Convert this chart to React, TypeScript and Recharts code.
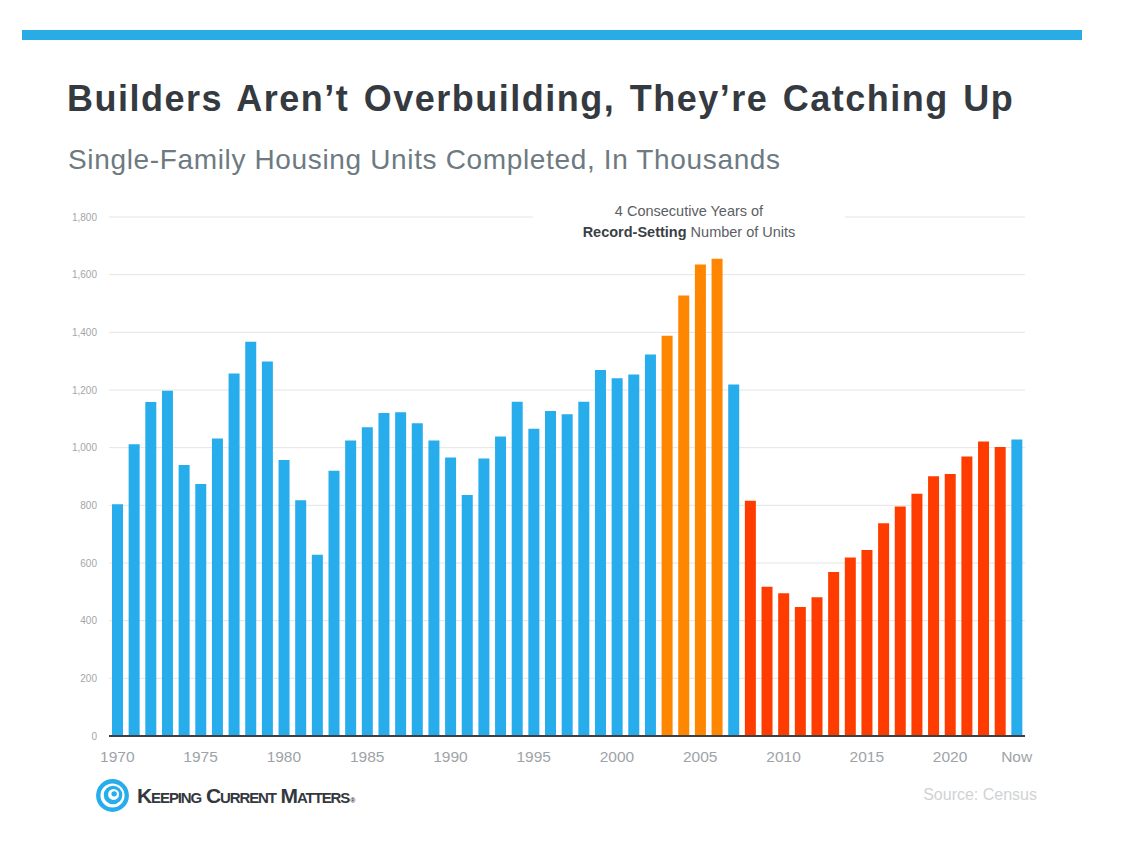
import React from "react";
import { BarChart, Bar, XAxis, YAxis, CartesianGrid, Cell } from "recharts";

// Single-family housing units completed, thousands
const years = [
  "1970", "1971", "1972", "1973", "1974", "1975", "1976", "1977", "1978", "1979",
  "1980", "1981", "1982", "1983", "1984", "1985", "1986", "1987", "1988", "1989",
  "1990", "1991", "1992", "1993", "1994", "1995", "1996", "1997", "1998", "1999",
  "2000", "2001", "2002", "2003", "2004", "2005", "2006", "2007", "2008", "2009",
  "2010", "2011", "2012", "2013", "2014", "2015", "2016", "2017", "2018", "2019",
  "2020", "2021", "2022", "2023", "Now",
];

const units = [
  804, 1012, 1158, 1197, 940, 874, 1032, 1257, 1367, 1299,
  957, 818, 629, 920, 1025, 1071, 1120, 1123, 1085, 1025,
  966, 836, 962, 1039, 1159, 1066, 1127, 1116, 1159, 1269,
  1241, 1254, 1323, 1388, 1528, 1635, 1655, 1219, 816, 518,
  495, 447, 481, 569, 619, 645, 738, 796, 840, 901,
  909, 969, 1021, 1002, 1028,
];

const xTickLabels = ["1970", "1975", "1980", "1985", "1990", "1995", "2000", "2005", "2010", "2015", "2020", "Now"];
const yTicks = [0, 200, 400, 600, 800, 1000, 1200, 1400, 1600, 1800];

const recordYears = ["2003", "2004", "2005", "2006"];
const underbuiltYears = [
  "2008", "2009", "2010", "2011", "2012", "2013", "2014", "2015",
  "2016", "2017", "2018", "2019", "2020", "2021", "2022", "2023",
];

const BLUE = "#27adeb";
const ORANGE = "#ff8600";
const RED = "#ff3c00";

const data = years.map((year, i) => ({ year, units: units[i] }));

function barColor(year: string) {
  if (recordYears.includes(year)) return ORANGE;
  if (underbuiltYears.includes(year)) return RED;
  return BLUE;
}

const font = "'Liberation Sans', Arial, Helvetica, sans-serif";

function Logo() {
  return (
    <svg width={35} height={35} viewBox="0 0 32 32">
      <circle cx={16} cy={16} r={15} fill={BLUE} />
      <circle cx={16} cy={16} r={11} fill="#fff" />
      <circle cx={16.5} cy={15.5} r={8.5} fill={BLUE} />
      <circle cx={17} cy={15} r={5} fill="#fff" />
      <circle cx={17.5} cy={14.5} r={2.5} fill={BLUE} />
    </svg>
  );
}

export default function App() {
  return (
    <div
      style={{
        position: "absolute",
        left: 0,
        top: 0,
        width: 1138,
        height: 842,
        background: "#fff",
        fontFamily: font,
        overflow: "hidden",
      }}
    >
      <div style={{ position: "absolute", left: 22, top: 30, width: 1060, height: 10, background: "#29abe6" }} />

      <div
        style={{
          position: "absolute",
          left: 67,
          top: 78,
          fontSize: 36,
          fontWeight: 700,
          color: "#343a40",
          whiteSpace: "nowrap",
          letterSpacing: 1.5,
          wordSpacing: 3,
        }}
      >
        Builders Aren’t Overbuilding, They’re Catching Up
      </div>
      <div
        style={{
          position: "absolute",
          left: 68,
          top: 144,
          fontSize: 28,
          color: "#6d7a82",
          whiteSpace: "nowrap",
          letterSpacing: 0.65,
        }}
      >
        Single-Family Housing Units Completed, In Thousands
      </div>

      <div style={{ position: "absolute", left: 0, top: 190 }}>
        <BarChart
          width={1138}
          height={576}
          data={data}
          margin={{ top: 27, right: 113, bottom: 0, left: 0 }}
          barCategoryGap="18%"
        >
          <CartesianGrid vertical={false} stroke="#e2e4e6" strokeWidth={1} />
          <XAxis
            dataKey="year"
            interval={0}
            height={30}
            tickLine={false}
            axisLine={{ stroke: "#3c4043", strokeWidth: 2 }}
            tickMargin={9}
            tickFormatter={(v: string) => (xTickLabels.includes(v) ? v : "")}
            tick={{ fontSize: 15.5, fill: "#9ea3a8", fontFamily: font }}
          />
          <YAxis
            width={109}
            domain={[0, 1800]}
            ticks={yTicks}
            axisLine={false}
            tickLine={false}
            tickSize={0}
            tickMargin={12}
            tickFormatter={(v: number) => v.toLocaleString("en-US")}
            tick={{ fontSize: 10, fill: "#a3a6a9", fontFamily: font }}
          />
          <Bar dataKey="units" isAnimationActive={false}>
            {data.map((d) => (
              <Cell key={d.year} fill={barColor(d.year)} />
            ))}
          </Bar>
        </BarChart>
      </div>

      {/* annotation over the top gridline */}
      <div
        style={{
          position: "absolute",
          left: 533,
          top: 201,
          width: 312,
          background: "#fff",
          textAlign: "center",
          fontSize: 14.5,
          lineHeight: "21px",
          color: "#5b6064",
        }}
      >
        <div>4 Consecutive Years of</div>
        <div>
          <b style={{ color: "#3a3f44" }}>Record-Setting</b> Number of Units
        </div>
      </div>

      <div style={{ position: "absolute", left: 95, top: 778, display: "flex", alignItems: "center" }}>
        <Logo />
        <span
          style={{
            marginLeft: 7,
            fontSize: 21,
            fontVariant: "small-caps",
            color: "#33383d",
            letterSpacing: -1.1,
            fontWeight: 700,
          }}
        >
          Keeping Current Matters
          <span style={{ fontSize: 7, marginLeft: 1, letterSpacing: 0 }}>®</span>
        </span>
      </div>
      <div
        style={{
          position: "absolute",
          right: 1138 - 1037,
          top: 786,
          fontSize: 16,
          color: "#cfd2d4",
          whiteSpace: "nowrap",
        }}
      >
        Source: Census
      </div>
    </div>
  );
}
